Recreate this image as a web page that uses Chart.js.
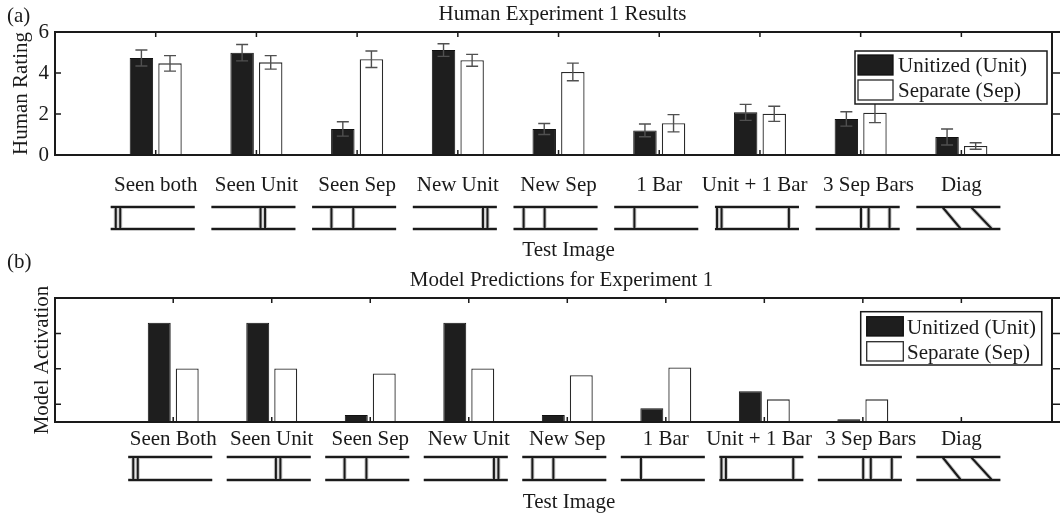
<!DOCTYPE html>
<html><head><meta charset="utf-8">
<script src="https://cdn.jsdelivr.net/npm/chart.js@4.4.0/dist/chart.umd.min.js"></script>
<style>
html,body{margin:0;padding:0;background:#fff;width:1060px;height:514px;overflow:hidden;}
.wrap{position:absolute;left:0;width:1060px;}
#wa{top:0;height:262px;}
#wb{top:244px;height:270px;}
canvas{display:block;}
</style></head><body>
<div class="wrap" id="wa"><canvas id="ca" width="1060" height="262"></canvas></div>
<div class="wrap" id="wb"><canvas id="cb" width="1060" height="270"></canvas></div>
<script>
// ---------------- data ----------------
const categoriesA = ['Seen both','Seen Unit','Seen Sep','New Unit','New Sep','1 Bar','Unit + 1 Bar','3 Sep Bars','Diag'];
const categoriesB = ['Seen Both','Seen Unit','Seen Sep','New Unit','New Sep','1 Bar','Unit + 1 Bar','3 Sep Bars','Diag'];
const seriesNames = ['Unitized (Unit)','Separate (Sep)'];
const humanUnit    = [4.73, 4.99, 1.27, 5.12, 1.27, 1.20, 2.08, 1.76, 0.88];
const humanUnitErr = [0.39, 0.40, 0.35, 0.31, 0.27, 0.31, 0.39, 0.35, 0.39];
const humanSep     = [4.47, 4.52, 4.67, 4.62, 4.05, 1.55, 2.01, 2.06, 0.44];
const humanSepErr  = [0.38, 0.33, 0.40, 0.29, 0.43, 0.42, 0.37, 0.48, 0.16];
const modelUnit    = [0.280, 0.280, 0.020, 0.280, 0.020, 0.039, 0.087, 0.008, 0.000];
const modelSep     = [0.151, 0.151, 0.137, 0.151, 0.132, 0.154, 0.064, 0.064, 0.000];
const humanYTicks  = [0, 2, 4, 6];
const modelYTicks  = [0.05, 0.15, 0.25];
// test-image pictograms: u = unitized (double) bar, s = single bar, d = diagonal bar (fractions of icon width)
const testImageBars = [
  [{u:0.06}],
  [{u:0.585}],
  [{s:0.23},{s:0.49}],
  [{u:0.835}],
  [{s:0.12},{s:0.37}],
  [{s:0.24}],
  [{u:0.025},{s:0.88}],
  [{s:0.54},{s:0.63},{s:0.88}],
  [{d:[0.31,0.53]},{d:[0.65,0.90]}]
];

// ---------------- style ----------------
const FONT = '"Liberation Serif","Times New Roman",serif';
const INK = '#1a1a1a';
Chart.defaults.font.family = FONT;
Chart.defaults.font.size = 21;
Chart.defaults.color = INK;
// small horizontal nudges of two crowded tick labels (as in the original figure)
const labelPad = {6: ['', '  '], 7: ['   ', '']};

const toPts = arr => arr.map((v, i) => ({x: i + 1, y: v}));

const framePlugin = {
  id: 'frame',
  afterDatasetsDraw(chart) {
    const {ctx, chartArea: {left, right, top, bottom}, scales: {x, y}} = chart;
    ctx.save();
    // error bars
    chart.data.datasets.forEach((ds, di) => {
      if (!ds.errorBars) return;
      const meta = chart.getDatasetMeta(di);
      ctx.strokeStyle = '#505050';
      ctx.lineWidth = 1.4;
      meta.data.forEach((el, j) => {
        const v = ds.data[j].y, e = ds.errorBars[j];
        const y1 = y.getPixelForValue(v + e), y2 = y.getPixelForValue(v - e);
        ctx.beginPath();
        ctx.moveTo(el.x, y1); ctx.lineTo(el.x, y2);
        ctx.moveTo(el.x - 6, y1); ctx.lineTo(el.x + 6, y1);
        ctx.moveTo(el.x - 6, y2); ctx.lineTo(el.x + 6, y2);
        ctx.stroke();
      });
    });
    // tick marks
    ctx.strokeStyle = INK;
    ctx.lineWidth = 1.5;
    ctx.beginPath();
    x.ticks.forEach(t => {
      const px = x.getPixelForValue(t.value);
      ctx.moveTo(px, top); ctx.lineTo(px, top + 5);
      ctx.moveTo(px, bottom); ctx.lineTo(px, bottom - 5);
    });
    y.ticks.forEach(t => {
      const py = y.getPixelForValue(t.value);
      ctx.moveTo(left, py); ctx.lineTo(left + 6, py);
      ctx.moveTo(right, py); ctx.lineTo(right + 8, py);
    });
    ctx.stroke();
    // box (top and bottom edges run on to the figure edge)
    ctx.lineWidth = 2;
    ctx.strokeRect(left, top, right - left, bottom - top);
    ctx.beginPath();
    ctx.moveTo(right, top); ctx.lineTo(right + 10, top);
    ctx.moveTo(right, bottom); ctx.lineTo(right + 10, bottom);
    ctx.stroke();
    ctx.restore();
  }
};

const iconPlugin = {
  id: 'icons',
  afterDraw(chart, args, o) {
    const {ctx, chartArea: {bottom}, scales: {x}} = chart;
    const w = 84, y0 = bottom + o.top, y1 = bottom + o.top + o.h;
    ctx.save();
    testImageBars.forEach((bars, i) => {
      const cx = x.getPixelForValue(i + 1) - 3;
      const x0 = cx - w / 2;
      const segs = [[x0, y0, x0 + w, y0], [x0, y1, x0 + w, y1]];
      bars.forEach(b => {
        if (b.u !== undefined) {
          const p = x0 + b.u * w;
          segs.push([p, y0, p, y1], [p + 4.5, y0, p + 4.5, y1]);
        } else if (b.s !== undefined) {
          const p = x0 + b.s * w;
          segs.push([p, y0, p, y1]);
        } else if (b.d) {
          segs.push([x0 + b.d[0] * w, y0, x0 + b.d[1] * w, y1]);
        }
      });
      [['#c8c8c8', 4], [INK, 2]].forEach(([c, lw]) => {
        ctx.strokeStyle = c; ctx.lineWidth = lw;
        ctx.beginPath();
        segs.forEach(s => { ctx.moveTo(s[0], s[1]); ctx.lineTo(s[2], s[3]); });
        ctx.stroke();
      });
    });
    ctx.restore();
  }
};

const legendPlugin = {
  id: 'boxLegend',
  afterDraw(chart, args, o) {
    const {ctx} = chart;
    ctx.save();
    ctx.fillStyle = '#fff';
    ctx.fillRect(o.x, o.y, o.w, o.h);
    ctx.strokeStyle = INK; ctx.lineWidth = 1.5;
    ctx.strokeRect(o.x, o.y, o.w, o.h);
    chart.data.datasets.forEach((ds, i) => {
      const sy = o.sy[i];
      ctx.fillStyle = ds.backgroundColor;
      ctx.fillRect(o.sx, sy, o.sw, o.sh);
      ctx.strokeStyle = ds.borderColor; ctx.lineWidth = 1.3;
      ctx.strokeRect(o.sx, sy, o.sw, o.sh);
      ctx.fillStyle = INK;
      ctx.font = '21px ' + FONT;
      ctx.textAlign = 'left'; ctx.textBaseline = 'alphabetic';
      ctx.fillText(ds.label, o.tx, o.ty[i]);
    });
    ctx.restore();
  }
};

const textPlugin = {
  id: 'texts',
  afterDraw(chart, args, o) {
    const {ctx} = chart;
    ctx.save();
    ctx.fillStyle = INK;
    ctx.font = '21px ' + FONT;
    ctx.textBaseline = 'alphabetic';
    o.items.forEach(t => { ctx.textAlign = t.align; ctx.fillText(t.text, t.x, t.y); });
    ctx.restore();
  }
};

function barDatasets(u, s, ue, se) {
  const common = {categoryPercentage: 0.568, barPercentage: 0.82};
  return [
    Object.assign({label: seriesNames[0], data: toPts(u), backgroundColor: '#1e1e1e', borderColor: '#111', borderWidth: 1, errorBars: ue}, common),
    Object.assign({label: seriesNames[1], data: toPts(s), backgroundColor: '#ffffff', borderColor: '#2a2a2a', borderWidth: 1.3, errorBars: se}, common)
  ];
}

function xScale(cats, min, max, pad, height) {
  return {
    type: 'linear', min: min, max: max, offset: false, bounds: 'data',
    afterBuildTicks: s => { s.ticks = cats.map((c, i) => ({value: i + 1})); },
    afterFit: s => { s.height = height; },
    ticks: {autoSkip: false, maxRotation: 0, minRotation: 0, padding: pad, color: INK,
            callback: (v, i) => { const p = labelPad[i] || ['', '']; return p[0] + cats[i] + p[1]; }},
    grid: {display: false, drawTicks: false},
    border: {display: false}
  };
}

// ---------------- chart (a) ----------------
new Chart(document.getElementById('ca'), {
  type: 'bar',
  data: {datasets: barDatasets(humanUnit, humanSep, humanUnitErr, humanSepErr)},
  options: {
    responsive: false, animation: false, devicePixelRatio: 1,
    layout: {padding: {top: 32, right: 8, left: 0, bottom: 0}},
    scales: {
      x: xScale(categoriesA, 0, 9.9, 18, 107),
      y: {
        min: 0, max: 6,
        afterBuildTicks: s => { s.ticks = humanYTicks.map(v => ({value: v})); },
        afterFit: s => { s.width = 55; },
        ticks: {padding: 6, color: INK},
        grid: {display: false, drawTicks: false},
        border: {display: false},
        title: {display: true, text: 'Human Rating', color: INK, padding: {top: 8.5, bottom: 0}}
      }
    },
    plugins: {
      legend: {display: false}, tooltip: {enabled: false},
      boxLegend: {x: 855, y: 51, w: 192, h: 53, sx: 858, sw: 35, sh: 20, sy: [55, 80], tx: 898, ty: [72, 96.5]},
      icons: {top: 52, h: 22},
      texts: {items: [
        {text: '(a)', x: 7, y: 21.5, align: 'left'},
        {text: 'Human Experiment 1 Results', x: 562.5, y: 20, align: 'center'},
        {text: 'Test Image', x: 568.5, y: 256, align: 'center'}
      ]}
    }
  },
  plugins: [framePlugin, iconPlugin, legendPlugin, textPlugin]
});

// ---------------- chart (b) ----------------
new Chart(document.getElementById('cb'), {
  type: 'bar',
  data: {datasets: barDatasets(modelUnit, modelSep, null, null)},
  options: {
    responsive: false, animation: false, devicePixelRatio: 1,
    layout: {padding: {top: 54, right: 8, left: 0, bottom: 0}},
    scales: {
      x: xScale(categoriesB, -0.2, 9.92, 5.3, 92),
      y: {
        min: 0, max: 0.35,
        afterBuildTicks: s => { s.ticks = modelYTicks.map(v => ({value: v})); },
        afterFit: s => { s.width = 55; },
        ticks: {display: false},
        grid: {display: false, drawTicks: false},
        border: {display: false},
        title: {display: true, text: 'Model Activation', color: INK, padding: {top: 29.5, bottom: 0}}
      }
    },
    plugins: {
      legend: {display: false}, tooltip: {enabled: false},
      boxLegend: {x: 860.7, y: 67.7, w: 181, h: 53.3, sx: 866.7, sw: 36.6, sh: 19.3, sy: [72.7, 97.7], tx: 907, ty: [90, 114.5]},
      icons: {top: 35, h: 23},
      texts: {items: [
        {text: '(b)', x: 7, y: 24, align: 'left'},
        {text: 'Model Predictions for Experiment 1', x: 561.5, y: 42, align: 'center'},
        {text: 'Test Image', x: 569, y: 263.8, align: 'center'}
      ]}
    }
  },
  plugins: [framePlugin, iconPlugin, legendPlugin, textPlugin]
});
</script>
</body></html>
